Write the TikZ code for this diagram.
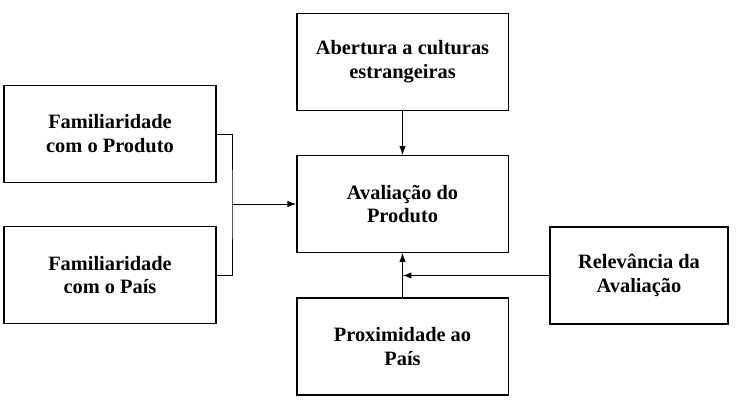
\documentclass[tikz,border=0pt]{standalone}
\usepackage{fontspec}
\setmainfont{Liberation Serif}
\usetikzlibrary{arrows.meta}

\begin{document}
\begin{tikzpicture}[x=0.025cm, y=-0.025cm,
    caixa/.style={draw, line width=0.9pt, align=center, font=\fontsize{14.5}{17}\selectfont\bfseries,
                  minimum width=5.28cm, minimum height=2.42cm, inner sep=2pt},
    seta/.style={-{Latex[length=2.2mm,width=1.6mm]}, line width=0.6pt}]
  \useasboundingbox (0,0) rectangle (741,405);

  \node[caixa, minimum width=5.3cm] (prod) at (110,134) {Familiaridade\\com o Produto};
  \node[caixa, minimum width=5.3cm] (pais) at (110,275) {Familiaridade\\com o País};
  \node[caixa] (abert) at (402.5,62) {Abertura a culturas\\estrangeiras};
  \node[caixa] (aval) at (402.5,204) {Avaliação do\\Produto};
  \node[caixa] (prox) at (402.5,346.5) {Proximidade ao\\País};
  \node[caixa, minimum width=4.45cm] (relev) at (639,275.5) {Relevância da\\Avaliação};

  % ligacoes
  \coordinate (br) at (232,204);
  \draw[line width=0.6pt] (prod.east) -| (br) |- (pais.east);
  \draw[seta] (br) -- (aval.west);
  \draw[seta] (abert) -- (aval);
  \draw[seta] (prox) -- (aval);
  \draw[seta, line width=1pt] (relev.west) -- (relev.west -| aval.south);

\end{tikzpicture}
\end{document}
